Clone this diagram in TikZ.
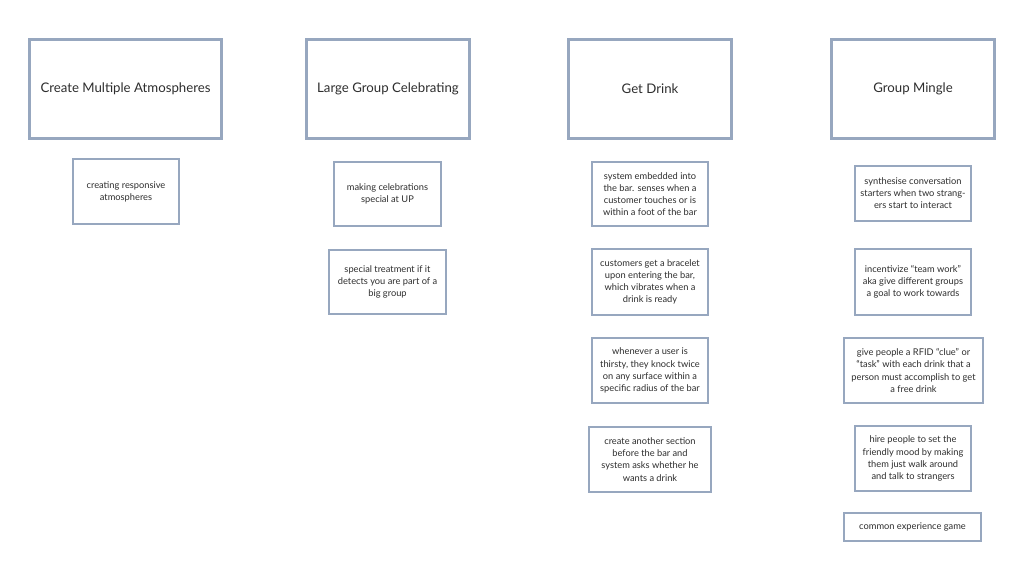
\documentclass[tikz,border=0pt]{standalone}
\usepackage{fontspec}
\setmainfont{Lato}
\usepackage{tikz}
\usetikzlibrary{positioning}
\definecolor{BoardSlate}{HTML}{97A7BF}
\definecolor{BoardInk}{HTML}{2E2E2E}

\begin{document}
\begin{tikzpicture}[x=0.025cm,y=-0.025cm,
  every node/.style={align=center,text=BoardInk},
  topic/.style={draw=BoardSlate,line width=2.6pt,fill=white,
    minimum width=4.075cm,minimum height=2.475cm,
    font=\fontsize{9.4}{11}\selectfont},
  idea/.style={draw=BoardSlate,line width=1.6pt,fill=white,
    minimum width=2.9cm,minimum height=1.625cm,inner sep=0pt,
    font=\fontsize{6.6}{8.6}\selectfont}]
  \useasboundingbox (0,0) rectangle (1024,560);
  % column headers
  \node[topic,minimum width=4.8cm] (atmos) at (125.5,89) {Create Multiple Atmospheres};
  \node[topic] (group) at (388,89) {Large Group Celebrating};
  \node[topic] (drink) at (650,89) {Get Drink};
  \node[topic] (mingle) at (913,89) {Group Mingle};
  % create multiple atmospheres
  \node[idea,minimum width=2.65cm] (atmos1) at (126,191.5) {creating responsive\\atmospheres};
  % large group celebrating
  \node[idea,minimum width=2.675cm,minimum height=1.6cm] (group1) at (387.5,194) {making celebrations\\special at UP};
  \node[idea,minimum width=2.925cm,minimum height=1.6cm] (group2) at (387.5,282) {special treatment if it\\detects you are part of a\\big group};
  % get drink
  \node[idea,minimum height=1.6cm] (drink1) at (650,194) {system embedded into\\the bar. senses when a\\customer touches or is\\within a foot of the bar};
  \node[idea,minimum height=1.65cm] (drink2) at (650,282) {customers get a bracelet\\upon entering the bar,\\which vibrates when a\\drink is ready};
  \node[idea] (drink3) at (650,370.5) {whenever a user is\\thirsty, they knock twice\\on any surface within a\\specific radius of the bar};
  \node[idea,minimum width=3.05cm] (drink4) at (650,459.5) {create another section\\before the bar and\\system asks whether he\\wants a drink};
  % group mingle
  \node[idea,minimum height=1.375cm] (mingle1) at (913,193.5) {synthesise conversation\\starters when two strang-\\ers start to interact};
  \node[idea,minimum height=1.65cm] (mingle2) at (913,282) {incentivize “team work”\\aka give different groups\\a goal to work towards};
  \node[idea,minimum width=3.475cm] (mingle3) at (913.5,370.5) {give people a RFID “clue” or\\“task” with each drink that a\\person must accomplish to get\\a free drink};
  \node[idea] (mingle4) at (913,458.5) {hire people to set the\\friendly mood by making\\them just walk around\\and talk to strangers};
  \node[idea,minimum width=3.425cm,minimum height=0.7cm] (mingle5) at (912.5,527) {common experience game};
\end{tikzpicture}
\end{document}
